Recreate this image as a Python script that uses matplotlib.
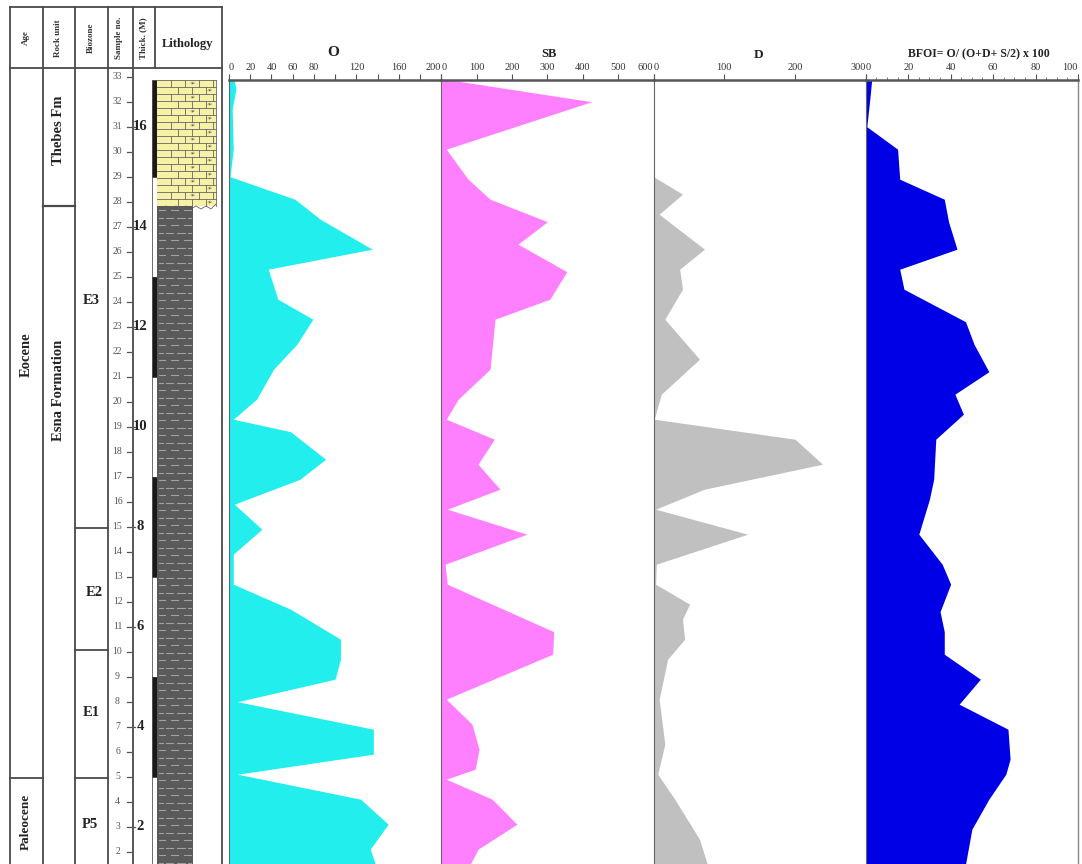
import matplotlib
matplotlib.use("Agg")
import matplotlib.pyplot as plt
from matplotlib.patches import Rectangle, Polygon

plt.rcParams['font.family'] = ['Liberation Serif', 'DejaVu Serif']

# ---------------- data (depth in sample-number units) ----------------
O_s = [32.87, 32.5, 31.7, 30.1, 29.0, 28.1, 27.3, 26.1, 25.3, 24.1, 23.3, 22.3, 21.3, 20.1, 19.3,
       18.8, 17.7, 16.9, 15.9, 14.9, 13.9, 12.7, 11.7, 10.5, 9.7, 8.9, 8.0, 6.9, 5.9, 5.1, 4.1, 3.1, 2.1, 1.5]
O_v = [5, 6.5, 3, 4, 1, 62, 86, 135, 37, 46, 79, 64, 42, 26, 4,
       58, 91, 67, 5, 31, 4, 4, 58, 105, 105, 100, 8, 136, 136, 8, 124, 150, 133, 138]

SB_s = [32.87, 32.0, 30.1, 28.9, 28.1, 27.2, 26.3, 25.2, 24.1, 23.3, 21.3, 20.1, 19.3, 18.5, 17.5,
        16.5, 15.7, 14.7, 13.5, 12.7, 10.8, 9.9, 8.1, 7.1, 6.1, 5.3, 4.9, 4.1, 3.1, 2.1, 1.5]
SB_v = [25, 425, 14, 76, 138, 300, 217, 355, 307, 152, 138, 48, 14, 150, 104,
        166, 17, 242, 11, 17, 318, 315, 14, 87, 107, 96, 14, 144, 214, 104, 82]

D_s = [32.87, 29.0, 28.3, 27.5, 26.1, 25.3, 24.5, 23.3, 21.7, 20.3, 19.3, 18.5, 17.5, 16.5,
       15.7, 14.7, 13.5, 12.7, 11.9, 11.3, 10.5, 9.7, 8.1, 6.3, 5.1, 4.1, 2.5, 1.5]
D_v = [0, 0, 41, 8, 72, 37, 41, 16, 65, 11, 1, 200, 239, 72,
       3, 133, 4, 3, 51, 41, 44, 20, 8, 16, 6, 30, 65, 76]

BF_s = [32.87, 32.1, 31.0, 30.1, 28.9, 28.1, 27.2, 26.1, 25.3, 24.5, 23.2, 22.3, 21.2, 20.3, 19.5,
        18.5, 16.9, 16.1, 14.7, 13.5, 12.7, 11.6, 10.8, 9.9, 8.9, 7.9, 6.9, 5.7, 5.1, 4.1, 2.9, 1.5]
BF_v = [2.8, 1.9, 0.5, 15, 16, 37, 39, 43, 16, 18, 47, 51, 58, 42, 46,
        33, 32, 30, 25, 36, 40, 35, 37, 37, 54, 44, 67, 68, 66, 58, 50, 47]

samples = list(range(33, 0, -1))
thick_labels = [16, 14, 12, 10, 8, 6, 4, 2]
thick_samples = [31, 27, 23, 19, 15, 11, 7, 3]

# ---------------- layout helpers ----------------
W, H = 1082, 864
Y0, PPS = 901.7, 25.0           # pixel y of sample 0, pixels per sample


def s_of(y):
    return (Y0 - y) / PPS


fig = plt.figure(figsize=(W / 100, H / 100), dpi=100)
fig.patch.set_facecolor('white')

tab = fig.add_axes([0, 0, 1, 1])
tab.set_xlim(0, W)
tab.set_ylim(s_of(H), s_of(0))
tab.axis('off')

LC = '#4a4a4a'
top_h, hdr_b = s_of(7), s_of(68)
bot = s_of(H)
for x in [10, 42.7, 75, 107.5, 132.7, 221.7]:
    tab.plot([x, x], [top_h, bot], color=LC, lw=1.3)
tab.plot([155, 155], [top_h, hdr_b], color=LC, lw=1.3)
tab.plot([10, 221.7], [top_h, top_h], color=LC, lw=1.3)
tab.plot([10, 221.7], [hdr_b, hdr_b], color=LC, lw=1.3)
tab.plot([10, 42.7], [s_of(778), s_of(778)], color=LC, lw=1.3)
tab.plot([42.7, 75], [s_of(206), s_of(206)], color=LC, lw=1.6)
for yb in [528, 650, 778]:
    tab.plot([75, 107.5], [s_of(yb), s_of(yb)], color=LC, lw=1.3)

hd = dict(rotation=90, ha='center', va='center', fontsize=6.5, fontweight='bold', color='#333')
tab.text(26, s_of(38), 'Age', **hd)
tab.text(58.5, s_of(38), 'Rock unit', **hd)
tab.text(91, s_of(38), 'Biozone', **hd)
tab.text(119, s_of(38), 'Sample no.', **hd)
tab.text(143, s_of(38), 'Thick. (M)', **hd)
tab.text(188, s_of(44), 'Lithology', ha='center', va='center', fontsize=9, fontweight='bold', color='#222')

bd = dict(rotation=90, ha='center', va='center', fontsize=10.5, fontweight='bold', color='#222')
tab.text(26, s_of(355), 'Eocene', **bd)
tab.text(26, s_of(822), 'Paleocene', rotation=90, ha='center', va='center', fontsize=9.5,
         fontweight='bold', color='#222')
tab.text(59, s_of(130), 'Thebes Fm', **bd)
tab.text(59, s_of(390), 'Esna Formation', **bd)
zd = dict(ha='center', va='center', fontsize=10.5, fontweight='bold', color='#222')
tab.text(91, s_of(300), 'E3', **zd)
tab.text(94, s_of(593), 'E2', **zd)
tab.text(91, s_of(713), 'E1', **zd)
tab.text(90, s_of(825), 'P5', **zd)

for n in samples:
    tab.text(117.5, n, str(n), ha='center', va='center', fontsize=7, color='#555', clip_on=True)
    tab.plot([126.5, 130.5], [n, n], color='#555', lw=0.9)
for t, n in zip(thick_labels, thick_samples):
    tab.text(140.5, n, str(t), ha='center', va='center', fontsize=10.5, fontweight='bold', color='#222')
    tab.plot([132.7, 135], [n, n], color='#555', lw=0.9)

bar_edges = [s_of(80), 29, 25, 21, 17, 13, 9, 5, bot]
for i in range(len(bar_edges) - 1):
    y_hi, y_lo = bar_edges[i], bar_edges[i + 1]
    fc = '#1a1a1a' if i % 2 == 0 else 'white'
    tab.add_patch(Rectangle((151.5, y_lo), 5, y_hi - y_lo, facecolor=fc, edgecolor='#333', lw=0.5))

# limestone (brick pattern)
lt, lb = 80, 206
tab.add_patch(Rectangle((157, s_of(lb)), 59, s_of(lt) - s_of(lb), facecolor='#f7f1a6', edgecolor='none'))
rh = 7.0
row = 0
y = lt
while y < lb - 1:
    y2 = min(y + rh, lb)
    tab.plot([157, 216], [s_of(y), s_of(y)], color='#666', lw=0.6)
    off = 7 if row % 2 else 0
    xj = 157 + off + 14
    while xj < 216:
        tab.plot([xj, xj], [s_of(y), s_of(y2)], color='#666', lw=0.6)
        xj += 14
    mx = 192 if row % 2 == 0 else 209
    tab.text(mx, s_of((y + y2) / 2), '\u2241', ha='center', va='center', fontsize=4.5,
             color='#444', family='DejaVu Sans')
    y += rh
    row += 1
tab.plot([216, 216], [s_of(lt), s_of(lb)], color='#666', lw=0.6)
zz_x = [157, 162, 166, 171, 176, 181, 186, 191, 196, 201, 206, 211, 216]
zz_y = [lb, lb + 3, lb, lb + 3, lb, lb + 3, lb, lb + 3, lb, lb + 3, lb, lb + 3, lb - 2]
tab.add_patch(Polygon(list(zip(zz_x, [s_of(v) for v in zz_y])), closed=False, fill=False,
                      edgecolor='#666', lw=0.6))

# shale
st = 206
tab.add_patch(Rectangle((157, bot), 36, s_of(st) - bot, facecolor='#5a5a5a', edgecolor='none'))
y = st + 4
row = 0
while y < H:
    segs = [(159, 165), (171, 178), (184, 191)] if row % 2 == 0 else [(159, 163), (166, 173), (177, 185), (188, 191)]
    for a, b in segs:
        tab.plot([a, b], [s_of(y), s_of(y)], color='#a0a0a0', lw=0.8)
    y += 7.5
    row += 1

# ---------------- data panels ----------------
edges = [229, 441.25, 653.5, 865.75, 1078]
top_px, bot_px = 80, H
panels = [
    (O_s, O_v, (0, 200), '#22eeee', list(range(0, 201, 20)), ['0', '20', '40', '60', '80', '', '120', '', '160', '', '200'], None),
    (SB_s, SB_v, (0, 600), '#ff80ff', list(range(0, 601, 100)), [str(v) for v in range(0, 601, 100)], None),
    (D_s, D_v, (0, 300), '#c0c0c0', [0, 100, 200, 300], ['0', '100', '200', '300'], None),
    (BF_s, BF_v, (0, 100), '#0000e6', [0, 20, 40, 60, 80, 100], ['0', '20', '40', '60', '80', '100'], list(range(0, 101, 5))),
]
titles = [('O', 333, 52, 11), ('SB', 549, 54, 9), ('D', 759, 55, 9.5),
          ('BFOI= O/ (O+D+ S/2) x 100', 979, 54, 8.5)]

for i, (ds, vs, xl, col, ticks, labels, minor) in enumerate(panels):
    x0, x1 = edges[i], edges[i + 1]
    ax = fig.add_axes([x0 / W, 1 - bot_px / H, (x1 - x0) / W, (bot_px - top_px) / H])
    ax.patch.set_alpha(0)
    ax.set_xlim(*xl)
    ax.set_ylim(s_of(bot_px), s_of(top_px))
    ax.fill_betweenx(ds, 0, vs, color=col, lw=0)
    ax.set_yticks([])
    ax.xaxis.set_ticks_position('top')
    ax.set_xticks(ticks)
    ax.set_xticklabels(labels)
    if minor:
        ax.set_xticks(minor, minor=True)
    ax.tick_params(axis='x', which='major', direction='out', length=4, width=0.8, colors='#555',
                   labelsize=7.5, labelcolor='#333', pad=2)
    ax.tick_params(axis='x', which='minor', direction='out', length=2.5, width=0.6, colors='#666')
    tl = ax.get_xticklabels()
    tl[0].set_ha('left')
    tl[-1].set_ha('right')
    ax.spines['bottom'].set_visible(False)
    ax.spines['right'].set_visible(i == 3)
    ax.spines['top'].set_linewidth(1.8)
    ax.spines['top'].set_color('#555')
    ax.spines['left'].set_color('#666')
    ax.spines['left'].set_linewidth(0.8)
    ax.spines['right'].set_color('#888')
    ax.spines['right'].set_linewidth(1.0)
    t, tx, ty, fs = titles[i]
    fig.text(tx / W, 1 - ty / H, t, ha='center', va='center', fontsize=fs, fontweight='bold', color='#222')

fig.savefig('out.png', dpi=100)
